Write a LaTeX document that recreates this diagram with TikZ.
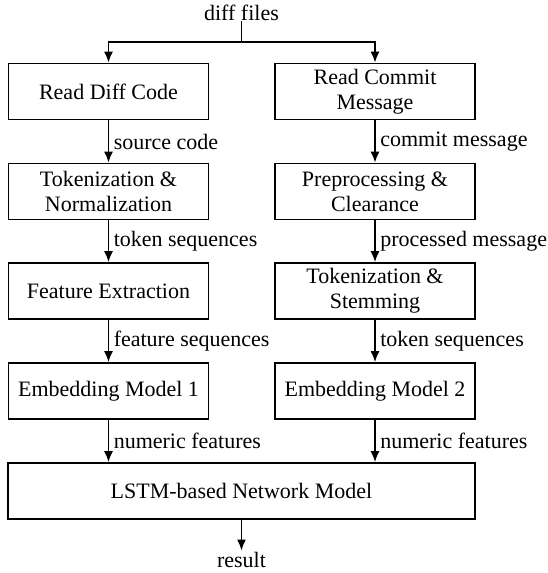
\documentclass[tikz,border=0pt]{standalone}
\usepackage{fontspec}
\setmainfont{Liberation Serif}
\usetikzlibrary{arrows.meta}

\begin{document}
\begin{tikzpicture}[x=1pt, y=-1pt,
  box/.style={draw, line width=1.8pt, minimum width=200pt, minimum height=56pt, align=center, inner sep=2pt},
  flow/.style={draw, line width=1.5pt, -{Latex[length=11pt,width=9pt]}},
  lbl/.style={right, inner sep=1pt, xshift=3.5pt}]
\useasboundingbox (0,0) rectangle (548,573);
\fontsize{22}{25}\selectfont

\node[anchor=base, inner sep=1pt] (files) at (241.5,20) {diff files};
\coordinate (split) at (241.5,42);

\node[box] (rd) at (108.5,91.5) {Read Diff Code};
\node[box] (rc) at (375,91.5) {Read Commit\\Message};
\node[box] (tn) at (108.5,191.5) {Tokenization \&\\Normalization};
\node[box] (pc) at (375,191.5) {Preprocessing \&\\Clearance};
\node[box] (fe) at (108.5,291) {Feature Extraction};
\node[box] (ts) at (375,291) {Tokenization \&\\Stemming};
\node[box] (em1) at (108.5,391) {Embedding Model 1};
\node[box] (em2) at (375,391) {Embedding Model 2};
\node[box, minimum width=467pt] (lstm) at (241.5,491) {LSTM-based Network Model};
\node[anchor=base, inner sep=1pt] (res) at (241.5,567) {result};

% split of the input
\path[draw, line width=1.5pt] (files) -- (split);
\path[flow] (split) -| (rd);
\path[flow] (split) -| (rc);

% left column
\path[flow] (rd) -- node[lbl] {source code} (tn);
\path[flow] (tn) -- node[lbl] {token sequences} (fe);
\path[flow] (fe) -- node[lbl] {feature sequences} (em1);
\path[flow] (em1) -- node[lbl] {numeric features} (em1 |- lstm.north);

% right column
\path[flow] (rc) -- node[lbl] {commit message} (pc);
\path[flow] (pc) -- node[lbl] {processed message} (ts);
\path[flow] (ts) -- node[lbl] {token sequences} (em2);
\path[flow] (em2) -- node[lbl] {numeric features} (em2 |- lstm.north);

\path[flow] (lstm) -- (res);
\end{tikzpicture}
\end{document}
